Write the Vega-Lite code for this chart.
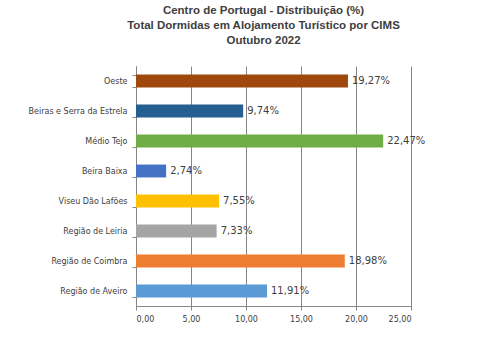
{
  "$schema": "https://vega.github.io/schema/vega-lite/v6.json",
  "autosize": {"type": "none"},
  "width": 275,
  "height": 240,
  "padding": {"left": 136, "top": 66, "right": 76, "bottom": 58},
  "background": "white",
  "title": {
    "text": ["Centro de Portugal -  Distribuição (%)", "Total Dormidas em Alojamento Turístico por CIMS", "Outubro 2022"],
    "anchor": "middle",
    "frame": "group",
    "dx": -10,
    "offset": 16,
    "font": "Liberation Sans",
    "fontSize": 11.5,
    "fontWeight": "bold",
    "color": "#404040",
    "lineHeight": 15
  },
  "config": {
    "locale": {"number": {"decimal": ",", "thousands": ".", "grouping": [3], "currency": ["", " €"]}},
    "view": {"stroke": null}
  },
  "data": {
    "values": [
      {"regiao": "Oeste", "valor": 19.27, "label": "19,27%"},
      {"regiao": "Beiras e Serra da Estrela", "valor": 9.74, "label": "9,74%"},
      {"regiao": "Médio Tejo", "valor": 22.47, "label": "22,47%"},
      {"regiao": "Beira Baixa", "valor": 2.74, "label": "2,74%"},
      {"regiao": "Viseu Dão Lafões", "valor": 7.55, "label": "7,55%"},
      {"regiao": "Região de Leiria", "valor": 7.33, "label": "7,33%"},
      {"regiao": "Região de Coimbra", "valor": 18.98, "label": "18,98%"},
      {"regiao": "Região de Aveiro", "valor": 11.91, "label": "11,91%"}
    ]
  },
  "encoding": {
    "y": {
      "field": "regiao",
      "type": "nominal",
      "sort": null,
      "scale": {"paddingInner": 0.57, "paddingOuter": 0.285},
      "axis": {
        "title": null,
        "labelFont": "DejaVu Sans",
        "labelFontSize": 8,
        "labelColor": "#404040",
        "domainColor": "#868686",
        "tickColor": "#868686",
        "tickBand": "extent",
        "tickSize": 4,
        "labelPadding": 5
      }
    },
    "x": {
      "field": "valor",
      "type": "quantitative",
      "scale": {"domain": [0, 25], "nice": false},
      "axis": {
        "title": null,
        "values": [0, 5, 10, 15, 20, 25],
        "format": ".2f",
        "labelFont": "DejaVu Sans",
        "labelFontSize": 8,
        "labelColor": "#404040",
        "domainColor": "#868686",
        "tickColor": "#868686",
        "tickSize": 4,
        "gridColor": "#868686",
        "gridWidth": 1,
        "labelPadding": 5
      }
    }
  },
  "layer": [
    {
      "mark": {"type": "bar"},
      "encoding": {
        "color": {
          "field": "regiao",
          "type": "nominal",
          "legend": null,
          "scale": {
            "domain": ["Oeste", "Beiras e Serra da Estrela", "Médio Tejo", "Beira Baixa", "Viseu Dão Lafões", "Região de Leiria", "Região de Coimbra", "Região de Aveiro"],
            "range": ["#9E480E", "#255E91", "#70AD47", "#4472C4", "#FFC000", "#A5A5A5", "#ED7D31", "#5B9BD5"]
          }
        }
      }
    },
    {
      "mark": {"type": "text", "align": "left", "dx": 4, "font": "DejaVu Sans", "fontSize": 10, "color": "#404040"},
      "encoding": {"text": {"field": "label"}}
    }
  ]
}
